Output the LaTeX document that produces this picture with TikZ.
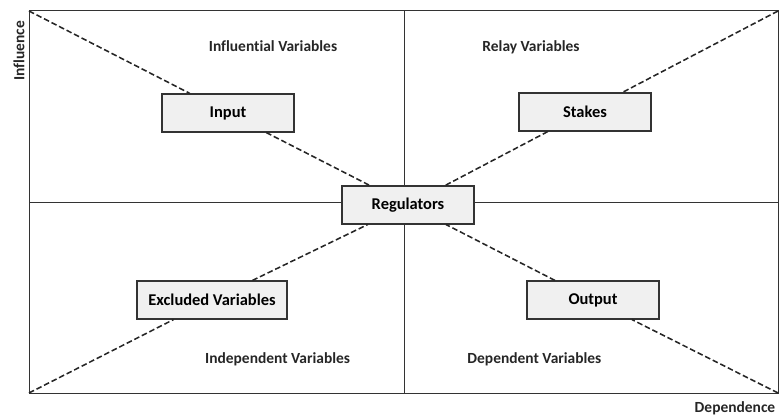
\documentclass[tikz,border=0pt]{standalone}
\usepackage{fontspec}
\setmainfont{Carlito}[Ligatures={NoCommon,NoRare}]
\usetikzlibrary{positioning}

\begin{document}
\begin{tikzpicture}[
  font=\bfseries\fontsize{11}{13}\selectfont,
  box/.style={draw=black!80, line width=0.8pt, fill=black!6, minimum width=3.3cm,
              minimum height=0.95cm, inner sep=2pt, font=\bfseries\fontsize{11.7}{14}\selectfont},
  zone/.style={text=black!85},
  diag/.style={draw=black!85, line width=1.1pt, dash pattern=on 4pt off 2pt},
  axis/.style={draw=black!80, line width=0.7pt}
]
\useasboundingbox (0,0) rectangle (19.525,10.4);
% frame and quadrants
\coordinate (bl) at (0.725,0.575);
\coordinate (tr) at (19.45,10.125);
\coordinate (tl) at (0.725,10.125);
\coordinate (br) at (19.45,0.575);
\draw[axis] (bl) rectangle (tr);
\draw[axis] (10.1,0.575) -- (10.1,10.125);
\draw[axis] (0.725,5.35) -- (19.45,5.35);
% boxes
\node[box] (reg) at (10.2,5.275) {Regulators};
\node[box] (inp) at (5.7,7.575) {Input};
\node[box] (stk) at (14.625,7.6) {Stakes};
\node[box, minimum width=3.75cm] (exc) at (5.3,2.9) {Excluded Variables};
\node[box] (out) at (14.825,2.9) {Output};
% diagonals
\draw[diag] (tl) -- (inp) -- (reg);
\draw[diag] (tr) -- (stk) -- (reg);
\draw[diag] (bl) -- (exc) -- (reg);
\draw[diag] (br) -- (out) -- (reg);
% quadrant names
\node[zone] (infl) at (6.825,9.25) {Influential Variables};
\node[zone] (rel) at (13.275,9.225) {Relay Variables};
\node[zone] (ind) at (6.94,1.425) {Independent Variables};
\node[zone] (dep) at (13.36,1.425) {Dependent Variables};
% axes
\node[zone] (dx) at (18.375,0.2) {Dependence};
\node[zone, rotate=90] (iy) at (0.475,9.125) {Influence};
\end{tikzpicture}
\end{document}
